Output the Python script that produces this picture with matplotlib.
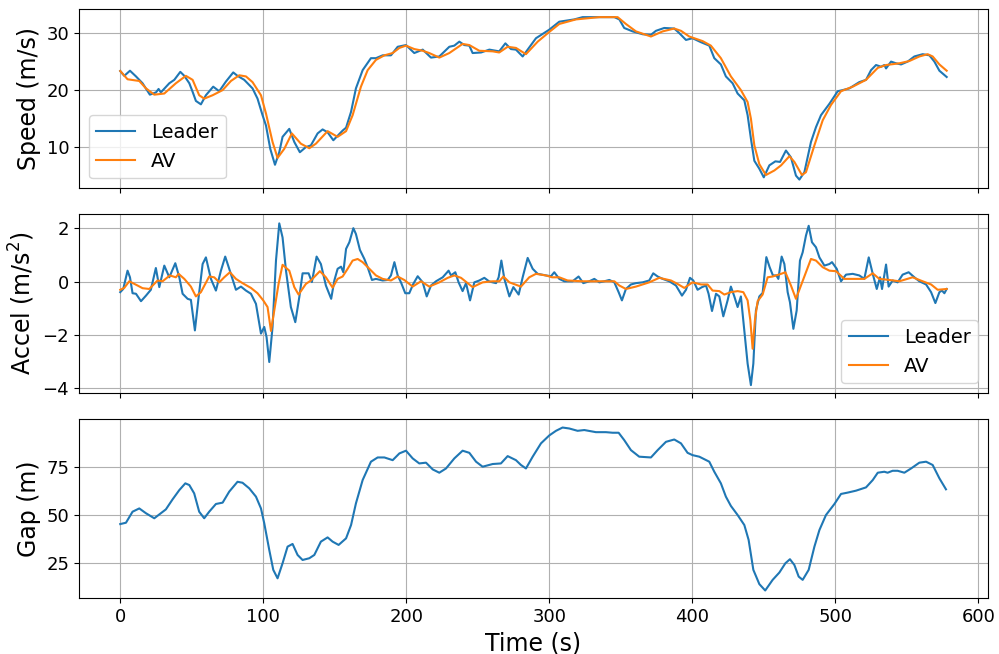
import numpy as np
import matplotlib
matplotlib.use("Agg")
import matplotlib.pyplot as plt

# === 1. Data ===
# leader speed [m/s]
t_lead_v = [0, 2.8, 6.8, 11, 15.6, 20.7, 25, 26.8, 28.4, 34.3, 37.8, 42, 44.8, 48.3, 50.6,
            52.9, 56.4, 59.9, 65, 69.2, 73.9, 79, 82, 86.7, 92.5, 96, 99.5, 101.9, 104.9,
            108.2, 111.2, 113.5, 118.2, 121.7, 125.6, 129.8, 133.3, 138, 141.5, 145, 149,
            155.5, 157.9, 161.4, 164.8, 169.5, 175.3, 178.8, 183.5, 189.3, 194, 199.8,
            205.6, 211.5, 217.3, 223.1, 230.1, 233.6, 237.1, 240.6, 244.1, 246.4, 252.3,
            258.1, 265, 269.3, 273.2, 276.7, 281.4, 284.9, 290.7, 300, 307, 317.5, 323.3,
            335, 345.5, 349, 352.4, 358.3, 365.3, 371.1, 374.6, 380.4, 387.4, 390.9,
            395.6, 400.2, 406.1, 411.9, 415.4, 420, 423.5, 428.2, 431.7, 436.4, 438.7,
            441, 443.4, 446.9, 450, 453.9, 458.1, 461.4, 465.5, 469, 472.5, 474.9, 478.4,
            483, 486.5, 490, 495.9, 501.7, 505.2, 509.8, 516.8, 521.5, 525, 528.5, 532,
            534.3, 535.5, 539, 542.5, 546, 550.6, 555.3, 561.1, 565.8, 569.3, 572.8,
            575.1, 577.9]
lead_speed = [23.35, 22.5, 23.4, 22.4, 21.2, 19.2, 19.6, 20.2, 19.6, 21.2, 21.8, 23.2, 22.5,
              21.2, 19.7, 18.1, 17.5, 19.1, 20.6, 19.8, 21.5, 23.1, 22.5, 21.8, 20.3, 18.5,
              15.6, 13.8, 9.7, 6.9, 9.1, 11.8, 13.2, 10.9, 9.1, 10.0, 10.3, 12.4, 13.1,
              12.6, 11.2, 12.9, 13.4, 16.2, 20.3, 23.5, 25.6, 25.6, 26.1, 26.1, 27.6,
              27.9, 26.5, 27.1, 25.7, 25.9, 27.6, 27.8, 28.5, 27.9, 27.8, 26.5, 26.6,
              27.1, 26.8, 28.2, 27.2, 27.1, 25.9, 27.1, 29.1, 30.6, 32.0, 32.4, 32.8,
              32.8, 32.8, 32.4, 30.9, 30.3, 29.8, 29.7, 30.4, 30.9, 30.8, 30.0, 28.8,
              29.1, 28.4, 27.8, 25.6, 24.5, 22.4, 21.2, 19.4, 18.2, 15.6, 11.5, 7.6, 6.2,
              4.7, 6.8, 7.5, 7.4, 9.4, 8.2, 5.0, 4.3, 5.6, 10.9, 13.5, 15.6, 17.6, 19.8,
              20.0, 20.3, 21.4, 21.8, 23.5, 24.4, 24.1, 24.4, 23.8, 25.0, 24.7, 24.5,
              25.0, 25.9, 26.3, 26.1, 25.0, 23.4, 22.9, 22.3]

# AV speed [m/s]
t_av_v = [0, 5.1, 13.3, 18, 23.8, 30.8, 38.9, 45.9, 50.6, 55.2, 58.7, 64.6, 71.6, 77.4,
          83.2, 87.9, 92.5, 98.4, 101.9, 106.5, 110, 114.7, 120, 126.3, 132.2, 136.8, 145,
          152, 157.9, 162.5, 168.3, 173, 178.8, 184.7, 190.5, 195.2, 199.8, 205.6, 211.5,
          216.1, 223.1, 230.1, 239.4, 244.1, 251.1, 260.4, 265, 270.9, 276.7, 283.7,
          291.9, 300, 307, 318.6, 335, 347.8, 353.6, 360.6, 371.1, 379.3, 387.4, 392.1,
          397.9, 407.2, 413, 420, 427, 434, 438.7, 441, 443.4, 446.9, 451.5, 457.4,
          462.1, 467.9, 471.4, 476.7, 479.5, 485.4, 491.2, 497, 504, 512.2, 521.5,
          529.7, 535.5, 544.8, 551.8, 558.8, 564.6, 568.1, 572.8, 577.9]
av_speed = [23.35, 21.9, 21.6, 20.3, 19.2, 19.4, 21.2, 22.5, 21.8, 19.1, 18.5, 19.1, 20.0,
            21.6, 22.6, 22.4, 21.4, 19.1, 15.9, 10.9, 8.1, 9.7, 12.4, 10.6, 9.8, 10.6, 12.8,
            11.8, 12.8, 15.6, 20.6, 23.5, 25.3, 26.1, 26.5, 27.4, 27.8, 27.2, 26.9, 26.5,
            25.7, 26.5, 28.1, 27.9, 26.9, 26.8, 26.6, 27.6, 27.4, 26.3, 28.5, 30.2, 31.6,
            32.4, 32.8, 32.8, 31.6, 30.3, 29.4, 30.3, 30.8, 30.4, 29.4, 28.6, 27.8, 25.6,
            22.4, 20.0, 17.9, 15.0, 10.3, 7.0, 5.1, 5.9, 6.8, 8.4, 7.4, 5.1, 5.6, 10.3,
            14.7, 17.4, 19.8, 20.6, 21.8, 23.9, 24.4, 24.7, 25.1, 25.9, 26.3, 25.9, 24.5,
            23.4]

# leader accel [m/s^2]
t_lead_a = [0, 2.1, 5.1, 6.8, 8.6, 11, 14.5, 18, 21.4, 24.9, 27.3, 30.8, 34.3, 38.5, 41.3,
            43.6, 47.1, 49.4, 52.2, 54.8, 57.6, 59.9, 63.4, 66.9, 70.4, 73.4, 76.2, 80.9,
            84.4, 87.9, 91.4, 94.9, 98.4, 100.7, 102.3, 104.2, 106.5, 108.9, 111.2, 113.5,
            115.9, 119.3, 122.4, 125.2, 127.5, 131.7, 134, 137.3, 140.3, 143.8, 147.5,
            149.7, 152, 154.4, 156, 157.9, 160.2, 163, 164.8, 167.6, 170.7, 173, 176,
            178.8, 183.5, 187, 189.3, 191.7, 194, 196.3, 199.3, 202.1, 204.9, 208, 211.5,
            214.3, 217.3, 220.8, 225.5, 229.6, 231.3, 234.3, 236.6, 239.4, 241.8, 244.6,
            247.6, 251.1, 254.6, 258.1, 262.8, 264.6, 266.5, 268.6, 272.1, 274.9, 278.6,
            281.4, 284.9, 288.4, 291.9, 297.7, 301.2, 303.5, 307, 310.5, 316.3, 320.5,
            323.8, 328, 331.5, 335, 338.5, 342, 345.5, 348.5, 350.8, 353.6, 357.1, 360.6,
            365.3, 369.9, 372.7, 375.8, 379.3, 383.9, 388.6, 392.8, 395.6, 398.4, 400.7,
            403.7, 406.8, 409.6, 411.4, 413.8, 416.6, 418.9, 421.7, 424.7, 427, 429.4,
            431.7, 434, 436.4, 438.7, 441, 442.7, 444.5, 446.9, 449.2, 451.8, 454.1,
            456.4, 458.8, 460.2, 462.5, 464.4, 466.7, 468.3, 470.7, 473, 475.3, 477.2,
            479.5, 481.4, 483.7, 486.5, 488.9, 492.4, 495.9, 497.7, 501, 504, 507.5,
            512.2, 516.8, 520.3, 523.4, 526.2, 529, 531.3, 532.7, 535.5, 537.3, 540.1,
            543.6, 547.1, 551.3, 555.3, 558.8, 563.5, 567, 570, 572.8, 574.6, 576.3, 577.9]
lead_accel = [-0.4, -0.28, 0.41, 0.16, -0.44, -0.46, -0.74, -0.53, -0.31, 0.51, -0.21, 0.6,
              0.16, 0.69, 0.16, -0.46, -0.65, -0.69, -1.84, -0.59, 0.66, 0.91, 0.1, -0.34,
              0.41, 0.94, 0.48, -0.31, -0.19, -0.34, -0.46, -0.84, -1.96, -1.71, -2.09,
              -3.03, -1.71, 0.79, 2.19, 1.66, 0.41, -0.96, -1.53, -0.59, 0.31, 0.31, -0.02,
              0.94, 0.66, -0.15, -0.65, 0.04, 0.48, 0.56, 0.35, 1.23, 1.48, 2.01, 1.79,
              1.19, 0.85, 0.54, 0.06, 0.1, 0.04, 0.06, 0.23, 0.73, 0.23, -0.03, -0.44,
              -0.44, -0.09, 0.2, -0.03, -0.56, -0.15, 0.01, 0.16, 0.41, 0.23, 0.35, -0.03,
              -0.36, -0.06, -0.71, -0.03, 0.04, 0.14, 0.0, -0.06, 0.16, 0.79, 0.1, -0.56,
              -0.21, -0.49, 0.16, 0.89, 0.48, 0.29, 0.23, 0.2, 0.35, 0.1, 0.01, 0.01, 0.19,
              -0.06, 0.01, 0.1, -0.03, 0.01, 0.06, -0.03, -0.4, -0.71, -0.28, -0.11, -0.06,
              -0.03, 0.04, 0.31, 0.19, 0.1, 0.01, -0.15, -0.53, -0.31, 0.14, 0.04, -0.31,
              -0.21, -0.15, -0.46, -1.11, -0.46, -0.56, -1.31, -0.71, -0.19, -0.56, -0.96,
              -0.56, -1.84, -3.09, -3.9, -3.09, -1.09, -0.56, -0.43, 0.92, 0.54, 0.23, 0.23,
              0.1, 0.94, 0.66, -0.4, -0.78, -1.78, -1.09, 0.79, 1.1, 1.73, 2.1, 1.48, 1.29,
              0.91, 0.6, 0.66, 0.73, 0.48, 0.01, 0.26, 0.29, 0.23, 0.1, 0.91, 0.29, -0.28,
              0.16, -0.28, 0.64, -0.19, 0.04, -0.03, 0.26, 0.35, 0.16, 0.01, -0.11, -0.4,
              -0.81, -0.4, -0.34, -0.44, -0.28]

# AV accel [m/s^2]
t_av_a = [0, 2.8, 6.3, 12.1, 15.6, 20.3, 26.1, 29.6, 34.7, 38.9, 40.8, 44.8, 49.4, 52.9,
          56.4, 62.2, 65.7, 69.2, 72.7, 76.7, 80.9, 85.5, 91.4, 96, 100, 103, 105.4, 107.7,
          110.7, 113.5, 118.2, 121.7, 124.7, 129.8, 133.3, 139.6, 143.8, 148.5, 152, 155.5,
          159, 162.5, 166, 169.5, 174.2, 178.8, 183.5, 189.3, 194, 198.6, 204.5, 210.3,
          216.1, 223.1, 229, 233.6, 238.3, 246.4, 253.4, 260.4, 265.1, 267.9, 272.1,
          280.2, 286, 290.7, 297.7, 302, 307, 312.8, 323.3, 335, 345.5, 349, 353.6, 360.6,
          369.9, 376.9, 385.1, 389.7, 394.4, 400.2, 406.1, 410.7, 414.2, 418.9, 422.4,
          427, 431.7, 435.7, 438.7, 440.6, 442.2, 443.8, 445.7, 449.2, 452.7, 456.2,
          458.6, 462.1, 465.1, 469, 472.5, 476, 479.5, 483, 486.5, 491.2, 495.9, 500.5,
          506.3, 512.2, 520.3, 526.2, 530.8, 537.8, 544.8, 554.1, 561.1, 567, 571.6, 577.9]
av_accel = [-0.31, -0.24, 0.01, -0.15, -0.25, -0.28, 0.04, 0.01, 0.23, 0.16, 0.29, 0.1,
            -0.19, -0.56, -0.4, 0.19, 0.16, -0.03, 0.16, 0.35, 0.1, -0.06, -0.24, -0.44,
            -0.71, -0.96, -1.86, -1.09, -0.09, 0.63, 0.41, -0.21, -0.49, -0.09, 0.04, 0.39,
            0.16, -0.23, 0.1, 0.19, 0.48, 0.79, 0.85, 0.73, 0.48, 0.23, 0.1, 0.04, 0.19,
            0.06, -0.19, 0.01, -0.19, -0.03, 0.14, 0.23, 0.14, -0.21, -0.03, 0.01, 0.01,
            0.19, -0.03, -0.19, 0.16, 0.29, 0.23, 0.16, 0.16, 0.04, 0.01, 0.01, 0.01, -0.15,
            -0.28, -0.19, -0.03, 0.14, 0.04, -0.09, -0.24, -0.03, -0.11, -0.11, -0.34,
            -0.36, -0.49, -0.4, -0.36, -0.4, -0.71, -1.46, -2.53, -1.46, -0.74, -0.49, 0.16,
            0.19, 0.23, 0.29, 0.35, -0.15, -0.65, -0.15, 0.35, 0.85, 0.79, 0.54, 0.41, 0.39,
            0.1, 0.1, 0.1, 0.31, 0.1, 0.06, 0.01, 0.16, 0.01, -0.11, -0.31, -0.28]

# gap [m]
t_gap = [0, 4, 8.6, 13.3, 18, 23.8, 28.4, 31.9, 36.6, 41.3, 45.5, 48.3, 51.7, 55.2, 58.7,
         62.2, 66.9, 71.6, 76.2, 82, 85.5, 90.2, 94.9, 98.4, 100.7, 104.2, 107, 110, 113.5,
         117, 120.5, 124, 127.5, 132.2, 135.7, 140.3, 145, 148.5, 152.7, 157.9, 161.4,
         164.8, 169.5, 175.3, 180, 184.7, 190.5, 195.2, 199.8, 204.5, 209.1, 213.8, 218.5,
         223.1, 227.8, 233.6, 239.4, 244.1, 248.8, 253.4, 260.4, 266.2, 270.9, 276.7,
         280.2, 283.7, 288.4, 294.2, 300, 304.7, 309.3, 314, 319.8, 324.5, 332.6, 339.6,
         344.3, 348.5, 352.4, 357.1, 362.9, 371.1, 375.8, 381.6, 387.4, 392.1, 396.7,
         400.2, 404.9, 411.9, 415.4, 420, 423.5, 427, 431.7, 436.4, 439.4, 442.7, 446.9,
         451, 456.2, 460.9, 465.1, 468.3, 471.4, 474.4, 477.2, 481.4, 485.4, 488.9, 493.5,
         499.4, 504, 508.7, 514.5, 521.5, 526.2, 529.7, 534.3, 536.6, 540.1, 543.6,
         548.3, 553, 558.8, 563.5, 568.1, 572.8, 577.4]
gap = [45.3, 46, 51.7, 53.4, 50.9, 48.3, 50.9, 52.9, 58.1, 62.9, 66.4, 65.5, 61.2, 51.7,
       48.3, 51.7, 55.7, 56.4, 62.1, 67.2, 66.7, 63.8, 59.5, 53.4, 45.7, 31.9, 21.6, 17.2,
       25, 33.6, 35, 29.3, 26.7, 27.6, 29.3, 36.2, 38.4, 36.2, 34.5, 37.9, 44.8, 56, 68.1,
       77.6, 79.8, 79.8, 78.4, 81.9, 83.3, 79.3, 76.7, 77.1, 73.6, 71.9, 74.1, 79.3, 83.3,
       82.2, 77.6, 75, 76.4, 76.7, 80.5, 78.4, 75.9, 74.1, 80.2, 87.1, 91.2, 93.6, 95.3,
       94.8, 93.6, 94, 92.9, 92.9, 92.6, 92.6, 88.8, 83.6, 80.2, 79.8, 83.6, 87.9, 89.1,
       87.1, 82.2, 81, 80.2, 77.6, 72.4, 66.4, 59.5, 54.7, 50, 44.8, 37.1, 21.6, 14.2,
       10.9, 16.4, 20.2, 25, 27.1, 24.1, 18.1, 16.4, 21.6, 33.6, 42.2, 50, 55.7, 60.9,
       61.6, 62.6, 64.3, 68.1, 71.9, 72.4, 71.9, 72.9, 72.9, 71.9, 74.1, 77.1, 77.6,
       75.9, 69, 63.3]

# === 2. Build the figure ===
fig, (ax1, ax2, ax3) = plt.subplots(3, 1, sharex=True, figsize=(9.99, 6.54), dpi=100)
fig.subplots_adjust(left=0.079, right=0.989, top=0.986, bottom=0.0856, hspace=0.145)

ax1.plot(t_lead_v, lead_speed, label='Leader')
ax1.plot(t_av_v, av_speed, label='AV')
ax1.set_ylabel('Speed (m/s)', fontsize=17)
ax1.set_ylim(2.8, 34.2)
ax1.legend(loc='lower left', fontsize=14)

ax2.plot(t_lead_a, lead_accel, label='Leader')
ax2.plot(t_av_a, av_accel, label='AV')
ax2.set_ylabel('Accel (m/s$^2$)', fontsize=17)
ax2.set_ylim(-4.2, 2.54)
ax2.legend(loc='lower right', fontsize=14)

ax3.plot(t_gap, gap)
ax3.set_ylabel('Gap (m)', fontsize=17)
ax3.set_ylim(7.0, 99.7)
ax3.set_xlabel('Time (s)', fontsize=17)
ax3.set_xticks([0, 100, 200, 300, 400, 500, 600])

for ax in (ax1, ax2, ax3):
    ax.grid(True)
    ax.tick_params(axis='both', which='major', labelsize=13)

ax3.set_xlim(-28.9, 606.8)

fig.savefig('out.png', dpi=100)
